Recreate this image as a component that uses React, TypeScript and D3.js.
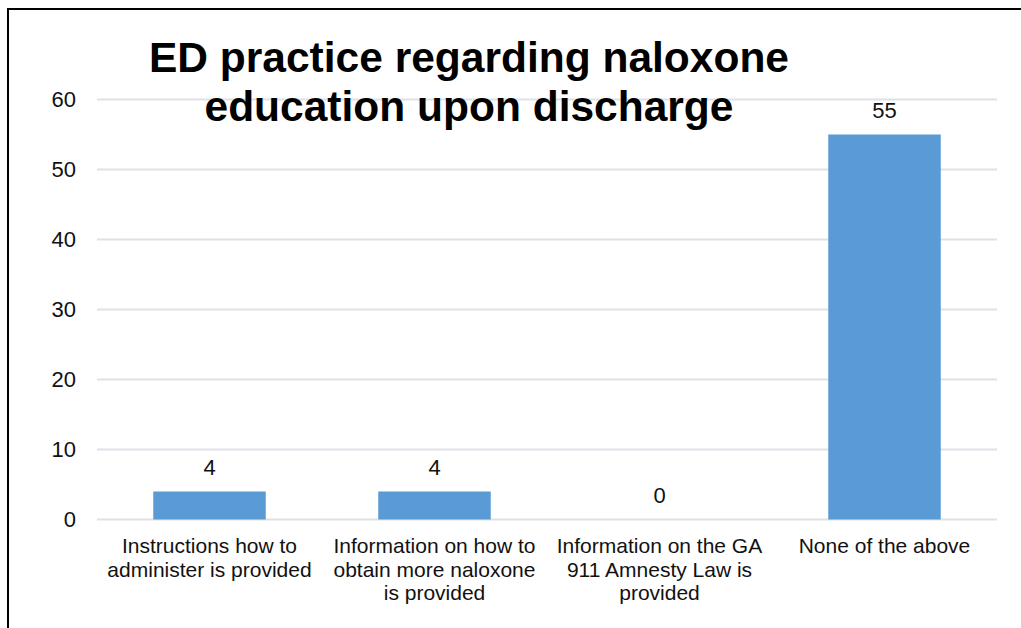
import React from "react";
import * as d3 from "d3";

const categories: string[][] = [
  ["Instructions how to", "administer is provided"],
  ["Information on how to", "obtain more naloxone", "is provided"],
  ["Information on the GA", "911 Amnesty Law is", "provided"],
  ["None of the above"],
];
const counts: number[] = [4, 4, 0, 55];
const yTicks: number[] = [0, 10, 20, 30, 40, 50, 60];
const titleLines: string[] = ["ED practice regarding naloxone", "education upon discharge"];

const W = 1021;
const H = 628;
const plot = { left: 97, right: 997, top: 99.5, bottom: 519.5 };
const FONT = "Arial, 'Liberation Sans', Helvetica, sans-serif";

export default function App() {
  const x = d3
    .scaleBand<number>()
    .domain(d3.range(categories.length))
    .range([plot.left, plot.right])
    .paddingInner(0.5)
    .paddingOuter(0.25);
  const y = d3.scaleLinear().domain([0, 60]).range([plot.bottom, plot.top]);

  return (
    <svg
      width={W}
      height={H}
      style={{ position: "absolute", left: 0, top: 0, background: "#fff" }}
      fontFamily={FONT}
    >
      {/* frame edges */}
      <line x1={8} y1={9} x2={W} y2={9} stroke="#000" strokeWidth={2} />
      <line x1={8} y1={8} x2={8} y2={H} stroke="#000" strokeWidth={2} />

      {/* gridlines and y tick labels */}
      {yTicks.map((t) => (
        <g key={t}>
          <line
            x1={plot.left}
            x2={plot.right}
            y1={y(t)}
            y2={y(t)}
            stroke="#dde2ea"
            strokeWidth={2}
          />
          <text
            x={76}
            y={y(t)}
            textAnchor="end"
            dominantBaseline="central"
            fontSize={22}
            fill="#111"
          >
            {t}
          </text>
        </g>
      ))}

      {/* bars */}
      {counts.map((v, i) => (
        <rect
          key={i}
          x={x(i)}
          y={y(v)}
          width={x.bandwidth()}
          height={y(0) - y(v)}
          fill="#5b9bd5"
        />
      ))}

      {/* value labels */}
      {counts.map((v, i) => (
        <text
          key={i}
          x={(x(i) as number) + x.bandwidth() / 2}
          y={y(v) - 24}
          textAnchor="middle"
          dominantBaseline="central"
          fontSize={22}
          fill="#111"
        >
          {v}
        </text>
      ))}

      {/* category labels */}
      {categories.map((lines, i) => (
        <text key={i} textAnchor="middle" fontSize={21} fill="#111">
          {lines.map((l, j) => (
            <tspan
              key={j}
              x={(x(i) as number) + x.bandwidth() / 2}
              y={553 + j * 23.5}
            >
              {l}
            </tspan>
          ))}
        </text>
      ))}

      {/* title */}
      <text textAnchor="middle" fontSize={42.5} fontWeight="bold" fill="#000">
        {titleLines.map((l, j) => (
          <tspan key={j} x={469} y={72 + j * 49}>
            {l}
          </tspan>
        ))}
      </text>
    </svg>
  );
}
